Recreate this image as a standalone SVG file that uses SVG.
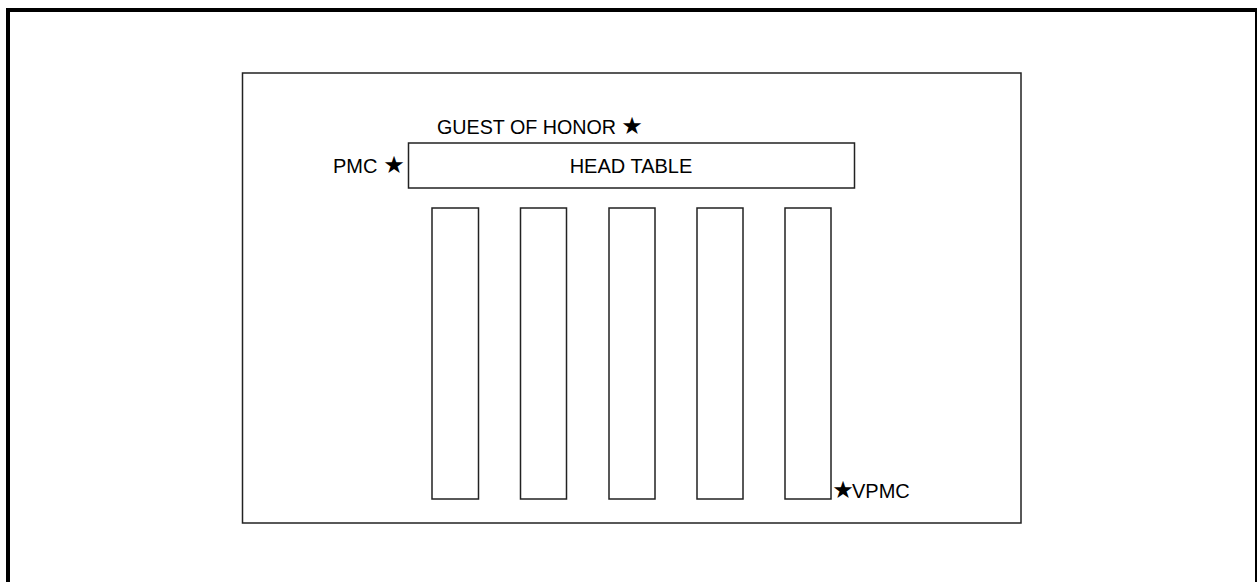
<svg xmlns="http://www.w3.org/2000/svg" width="1257" height="582" viewBox="0 0 1257 582">
<style>
.tbl{fill:#fff;stroke:#222;stroke-width:1.5}
.lbl{font-family:"Liberation Sans",Arial,"DejaVu Sans",sans-serif;font-size:20px;fill:#000}
.star{font-family:"DejaVu Sans",sans-serif;font-size:24px;fill:#000;text-anchor:middle}
</style>
<rect width="1257" height="582" fill="#fff"/>
<g id="frame">
<path d="M8,582 V10 H1257" fill="none" stroke="#000" stroke-width="4"/>
<line x1="1256" y1="10" x2="1256" y2="582" stroke="#000" stroke-width="2"/>
</g>
<g id="room"><rect x="242.5" y="73" width="778.5" height="450" class="tbl"/></g>
<g id="head-table">
<rect x="408.5" y="143" width="446" height="45" class="tbl"/>
<text class="lbl" x="631" y="173" text-anchor="middle">HEAD TABLE</text>
</g>
<g id="table-1"><rect x="432" y="208" width="46.5" height="291" class="tbl"/></g>
<g id="table-2"><rect x="520.5" y="208" width="46" height="291" class="tbl"/></g>
<g id="table-3"><rect x="609" y="208" width="46" height="291" class="tbl"/></g>
<g id="table-4"><rect x="697" y="208" width="46" height="291" class="tbl"/></g>
<g id="table-5"><rect x="785" y="208" width="46" height="291" class="tbl"/></g>
<g id="guest-of-honor"><text class="lbl" x="437" y="134" textLength="179" lengthAdjust="spacingAndGlyphs">GUEST OF HONOR</text><text class="star" x="632" y="134">★</text></g>
<g id="pmc"><text class="lbl" x="333" y="173">PMC</text><text class="star" x="394" y="173">★</text></g>
<g id="vpmc"><text class="star" x="843" y="498">★</text><text class="lbl" x="852" y="498">VPMC</text></g>
</svg>
